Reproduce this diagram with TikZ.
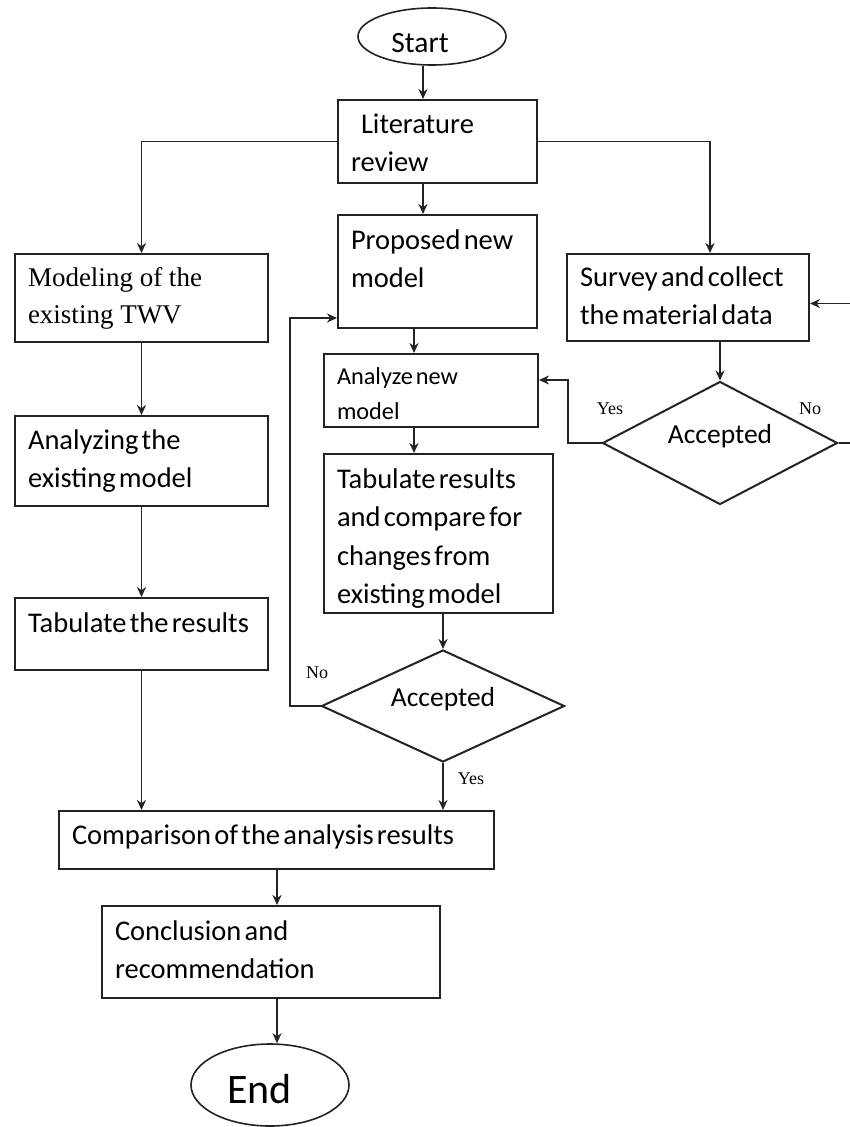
\documentclass[tikz,border=0pt]{standalone}
\usepackage{fontspec}
\setmainfont{Carlito}
\newfontfamily\tnr{Liberation Serif}
\usepackage{tikz}
\usetikzlibrary{arrows.meta,shapes.geometric,calc}
\usepackage{xcolor}
\definecolor{lncolor}{RGB}{35,35,35}
\newcommand\tightsp{\spaceskip=.115em plus .06em minus .03em\relax\xspaceskip=.115em\relax\hyphenpenalty=10000\relax}
\newcommand\normalsp{\spaceskip=0pt\relax\xspaceskip=0pt\relax}
\tikzstyle{arrow} = [line width=1.8pt,-{Stealth[length=10pt,width=9pt]},color=lncolor]
\tikzstyle{process} = [rectangle, anchor=north west, draw=lncolor, line width=2pt, align=flush left, inner xsep=13pt, inner ysep=0pt, font=\fontsize{28.5}{38.5}\selectfont, execute at begin node=\tightsp]
\tikzstyle{decision} = [diamond, aspect=2, draw=lncolor, line width=2pt, inner sep=0pt, text height=18pt, text depth=18pt, font=\fontsize{27.5}{32}\selectfont]
\tikzstyle{terminal} = [ellipse, draw=lncolor, line width=1.6pt, inner sep=0pt, text depth=0pt]
\tikzstyle{answer} = [inner sep=0pt, font=\tnr\fontsize{18}{20}\selectfont]

\begin{document}
\begin{tikzpicture}[x=1pt,y=-1pt]
\path[use as bounding box, fill=white] (0,0) rectangle (850,1127);

\node[terminal, minimum width=148pt, minimum height=57pt, text height=31pt, font=\fontsize{29.5}{31}\selectfont] (start) at (432,36.5) {Start\hspace*{24pt}};
\node[process, text width=173pt, text height=33pt, text depth=50pt] (litrev) at (337,99) {\hspace*{10pt}Literature\\review};

\node[process, text width=227pt, text height=32pt, text depth=56pt, font=\tnr\fontsize{27}{37}\selectfont, execute at begin node=\normalsp] (model) at (14,253) {Modeling of the\\existing TWV};
\node[process, text width=227pt, text height=33pt, text depth=57pt] (analyze) at (14,415) {Analyzing the\\existing model};
\node[process, text width=227pt, text height=34pt, text depth=38pt] (tabres) at (14,597) {Tabulate the results};

\node[process, text width=173pt, text height=34pt, text depth=79pt] (proposed) at (337,214) {Proposed new\\model};
\node[process, text width=188pt, text height=30pt, text depth=43pt, font=\fontsize{24.3}{35}\selectfont] (analyzenew) at (323,353) {Analyze new\\model};
\node[process, text width=203pt, text height=34pt, text depth=125pt] (tabcomp) at (323,453) {Tabulate results\\and compare for\\changes from\\existing model};
\node[decision, minimum width=243pt, minimum height=112pt] (accmid) at (443,706) {Accepted};

\node[process, text width=216pt, text height=32pt, text depth=55pt] (survey) at (566,253) {Survey and collect\\the material data};
\node[decision, minimum width=235pt, minimum height=123pt] (accright) at (720,443) {Accepted};

\node[process, text width=409pt, text height=33pt, text depth=25pt] (compare) at (58,810) {Comparison of the analysis results};
\node[process, text width=312pt, text height=34pt, text depth=58pt] (concl) at (101,905) {Conclusion and\\recommendation};
\node[terminal, minimum width=158pt, minimum height=82pt, text height=36pt, font=\fontsize{42}{44}\selectfont] (stop) at (270,1085) {End\hspace*{21pt}};

\node[answer] (yesR) at (610,409) {Yes};
\node[answer] (noR) at (810,409) {No};
\node[answer] (noM) at (317,673) {No};
\node[answer] (yesM) at (471,779) {Yes};

\coordinate (colB) at (423,0);
\coordinate (colC) at (414,0);
\coordinate (colD) at (710,0);
\coordinate (colE) at (277,0);
\coordinate (loopM) at (290,0);
\coordinate (loopY) at (568,0);
\coordinate (loopR) at (854,0);

\draw[arrow] (start.south -| colB) -- (litrev.north -| colB);
\draw[arrow] (litrev.south -| colB) -- (proposed.north -| colB);
\draw[arrow] (litrev.west) -| (model.north);
\draw[arrow] (litrev.east) -| (survey.north -| colD);

\draw[arrow] (model) -- (analyze);
\draw[arrow] (analyze) -- (tabres);
\draw[arrow] (tabres.south) -- (tabres.south |- compare.north);

\draw[arrow] (proposed.south -| colC) -- (analyzenew.north -| colC);
\draw[arrow] (analyzenew.south -| colC) -- (tabcomp.north -| colC);
\draw[arrow] (tabcomp.south -| accmid.north) -- (accmid.north);
\draw[arrow] (accmid.south) -- (accmid.south |- compare.north);
\draw[arrow] (accmid.west) -- (accmid.west -| loopM) |- ($(proposed.south west)+(0,-11)$);

\draw[arrow] (survey.south -| accright.north) -- (accright.north);
\draw[arrow] (accright.west) -- (accright.west -| loopY) |- ($(analyzenew.north east)+(0,27)$);
\draw[arrow] (accright.east) -- (accright.east -| loopR) |- ($(survey.east)+(0,6)$);

\draw[arrow] (compare.south -| colE) -- (concl.north -| colE);
\draw[arrow] (concl.south -| colE) -- (stop.north -| colE);
\end{tikzpicture}
\end{document}
